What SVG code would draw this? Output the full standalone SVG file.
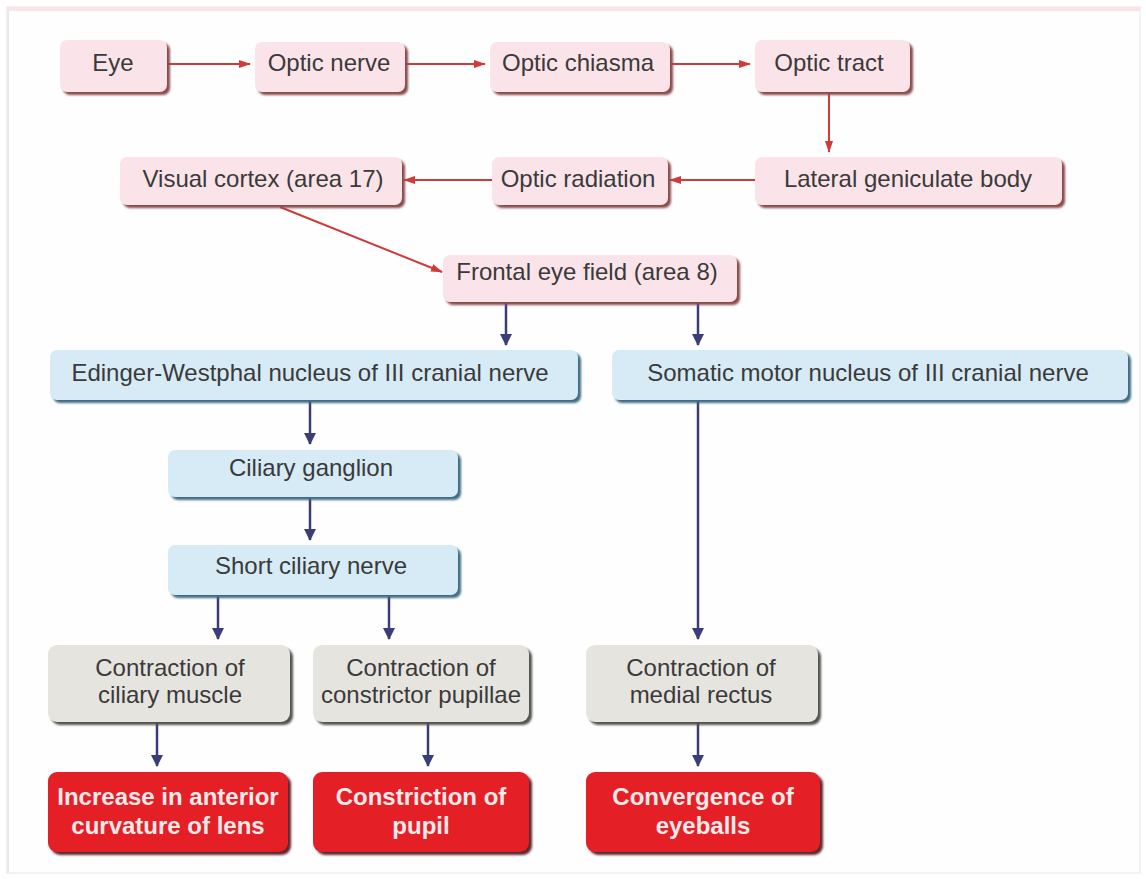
<svg xmlns="http://www.w3.org/2000/svg" width="1146" height="879" viewBox="0 0 1146 879">
<defs>
<style>
text{font-family:"Liberation Sans",Arial,sans-serif;font-size:24px;fill:#3a3a3a;text-anchor:middle}
.b text{font-weight:bold;fill:#fbeaea}
.pk{fill:#fbe4e9}
.pks{fill:#8a4c4c}
.bl{fill:#d6ebf6}
.bls{fill:#3f6c84}
.gr{fill:#e6e4df}
.grs{fill:#55524e}
.rd{fill:#e41f26}
.rds{fill:#5a2a2e}
.sh{filter:url(#blur)}
.ra{stroke:#cf3a3a;stroke-width:2;fill:none;marker-end:url(#rh)}
.ba{stroke:#3b3d78;stroke-width:2.5;fill:none;marker-end:url(#bh)}
</style>
<filter id="blur" x="-5%" y="-10%" width="110%" height="130%"><feGaussianBlur stdDeviation="1.2"/></filter>
<marker id="rh" markerWidth="12" markerHeight="10" refX="11" refY="5" orient="auto" markerUnits="userSpaceOnUse"><path d="M0,1 L12,5 L0,9 z" fill="#cf3a3a"/></marker>
<marker id="bh" markerWidth="12" markerHeight="12" refX="6" refY="11" orient="0" markerUnits="userSpaceOnUse"><path d="M0,0 L12,0 L6,12 z" fill="#3b3d78"/></marker>
</defs>
<rect x="0" y="0" width="1146" height="879" fill="#ffffff"/>
<rect x="7" y="7" width="1133" height="866" fill="#fffefe" stroke="#f5ecee" stroke-width="1.5"/>
<line x1="7" y1="9" x2="1140" y2="9" stroke="#fbe3e8" stroke-width="4"/>
<line x1="8" y1="7" x2="8" y2="873" stroke="#e8e8ea" stroke-width="2"/>

<g id="connectors">
<line class="ra" x1="167" y1="64" x2="250" y2="64"/>
<line class="ra" x1="405" y1="64" x2="485" y2="64"/>
<line class="ra" x1="670" y1="64" x2="750" y2="64"/>
<line class="ra" x1="829" y1="92" x2="829" y2="152"/>
<line class="ra" x1="755" y1="180" x2="670" y2="180"/>
<line class="ra" x1="492" y1="180" x2="404" y2="180"/>
<line class="ra" x1="280" y1="207" x2="442" y2="272"/>
<line class="ba" x1="506" y1="302" x2="506" y2="345"/>
<line class="ba" x1="698" y1="302" x2="698" y2="345"/>
<line class="ba" x1="310" y1="400" x2="310" y2="444"/>
<line class="ba" x1="310" y1="497" x2="310" y2="540"/>
<line class="ba" x1="218" y1="595" x2="218" y2="639"/>
<line class="ba" x1="389" y1="595" x2="389" y2="639"/>
<line class="ba" x1="698" y1="400" x2="698" y2="639"/>
<line class="ba" x1="157" y1="722" x2="157" y2="766"/>
<line class="ba" x1="428" y1="722" x2="428" y2="766"/>
<line class="ba" x1="698" y1="722" x2="698" y2="766"/>
</g>

<g id="eye"><rect class="pks sh" x="63" y="43" width="107" height="52" rx="7"/><rect class="pk" x="60" y="40" width="107" height="52" rx="7"/><text x="113" y="71">Eye</text></g>
<g id="optic-nerve"><rect class="pks sh" x="258" y="45" width="150" height="50" rx="7"/><rect class="pk" x="255" y="42" width="150" height="50" rx="7"/><text x="329" y="71">Optic nerve</text></g>
<g id="optic-chiasma"><rect class="pks sh" x="493" y="45" width="180" height="50" rx="7"/><rect class="pk" x="490" y="42" width="180" height="50" rx="7"/><text x="578" y="71">Optic chiasma</text></g>
<g id="optic-tract"><rect class="pks sh" x="758" y="43" width="155" height="52" rx="7"/><rect class="pk" x="755" y="40" width="155" height="52" rx="7"/><text x="829" y="71">Optic tract</text></g>
<g id="lgb"><rect class="pks sh" x="758" y="160" width="307" height="48" rx="7"/><rect class="pk" x="755" y="157" width="307" height="48" rx="7"/><text x="908" y="187">Lateral geniculate body</text></g>
<g id="optic-radiation"><rect class="pks sh" x="495" y="160" width="176" height="48" rx="7"/><rect class="pk" x="492" y="157" width="176" height="48" rx="7"/><text x="578" y="187">Optic radiation</text></g>
<g id="visual-cortex"><rect class="pks sh" x="123" y="160" width="282" height="48" rx="7"/><rect class="pk" x="120" y="157" width="282" height="48" rx="7"/><text x="263" y="187">Visual cortex (area 17)</text></g>
<g id="fef"><rect class="pks sh" x="446" y="258" width="294" height="47" rx="7"/><rect class="pk" x="443" y="255" width="294" height="47" rx="7"/><text x="587" y="280">Frontal eye field (area 8)</text></g>

<g id="ew"><rect class="bls sh" x="53" y="353" width="528" height="50" rx="7"/><rect class="bl" x="50" y="350" width="528" height="50" rx="7"/><text x="310" y="381">Edinger-Westphal nucleus of III cranial nerve</text></g>
<g id="somatic"><rect class="bls sh" x="615" y="353" width="516" height="50" rx="7"/><rect class="bl" x="612" y="350" width="516" height="50" rx="7"/><text x="868" y="381">Somatic motor nucleus of III cranial nerve</text></g>
<g id="ciliary-ganglion"><rect class="bls sh" x="171" y="453" width="290" height="47" rx="7"/><rect class="bl" x="168" y="450" width="290" height="47" rx="7"/><text x="311" y="476">Ciliary ganglion</text></g>
<g id="short-ciliary"><rect class="bls sh" x="171" y="548" width="290" height="50" rx="7"/><rect class="bl" x="168" y="545" width="290" height="50" rx="7"/><text x="311" y="574">Short ciliary nerve</text></g>

<g id="c-ciliary"><rect class="grs sh" x="51" y="648" width="242" height="77" rx="9"/><rect class="gr" x="48" y="645" width="242" height="77" rx="9"/><text x="170" y="676">Contraction of</text><text x="170" y="703">ciliary muscle</text></g>
<g id="c-constrictor"><rect class="grs sh" x="316" y="648" width="216" height="77" rx="9"/><rect class="gr" x="313" y="645" width="216" height="77" rx="9"/><text x="421" y="676">Contraction of</text><text x="421" y="703">constrictor pupillae</text></g>
<g id="c-medial"><rect class="grs sh" x="589" y="648" width="232" height="77" rx="9"/><rect class="gr" x="586" y="645" width="232" height="77" rx="9"/><text x="701" y="676">Contraction of</text><text x="701" y="703">medial rectus</text></g>

<g id="r-lens" class="b"><rect class="rds sh" x="51" y="775" width="240" height="80" rx="9"/><rect class="rd" x="48" y="772" width="240" height="80" rx="9"/><text x="168" y="805">Increase in anterior</text><text x="168" y="834">curvature of lens</text></g>
<g id="r-pupil" class="b"><rect class="rds sh" x="316" y="775" width="216" height="80" rx="9"/><rect class="rd" x="313" y="772" width="216" height="80" rx="9"/><text x="421" y="805">Constriction of</text><text x="421" y="834">pupil</text></g>
<g id="r-eyeballs" class="b"><rect class="rds sh" x="589" y="775" width="234" height="80" rx="9"/><rect class="rd" x="586" y="772" width="234" height="80" rx="9"/><text x="703" y="805">Convergence of</text><text x="703" y="834">eyeballs</text></g>
</svg>
